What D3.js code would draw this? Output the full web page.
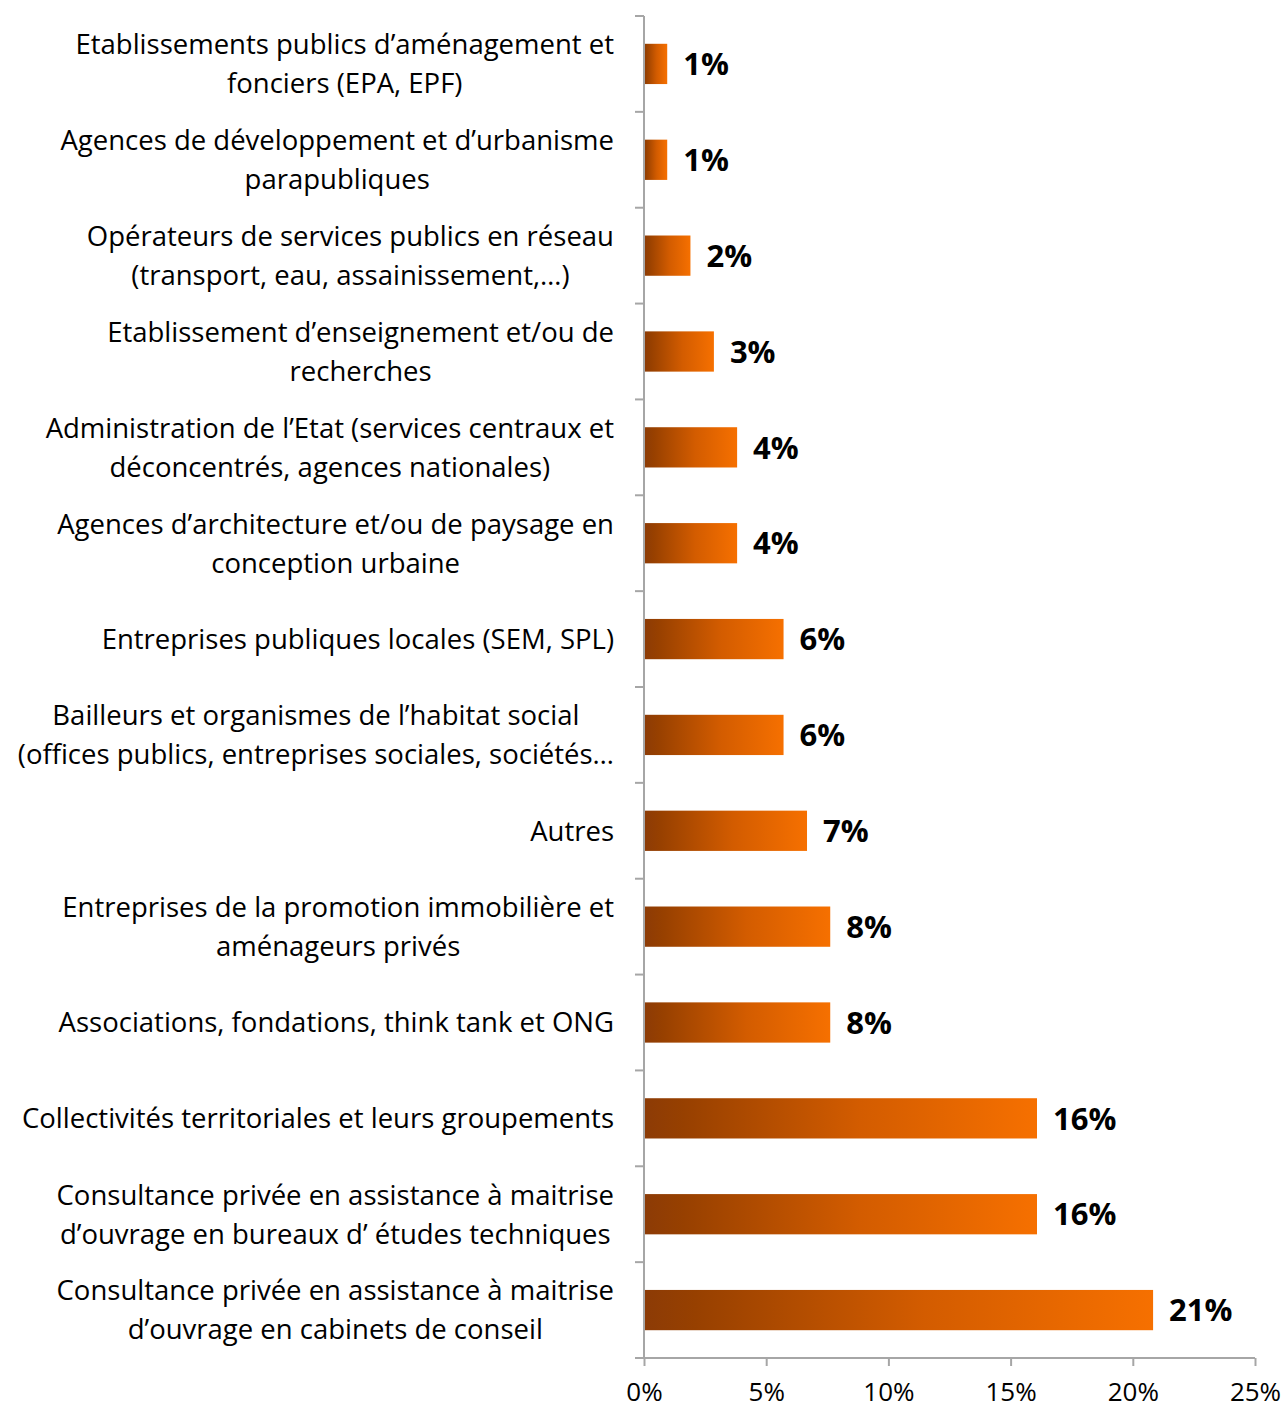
<!DOCTYPE html>
<html>
<head>
<meta charset="utf-8">
<title>Employeurs</title>
<style>
body { margin: 0; background: #fff; }
svg text { font-family: "Open Sans", Lato, sans-serif; fill: #000; }
</style>
</head>
<body>
<script src="https://cdn.jsdelivr.net/npm/d3@7"></script>
<script>
 // categories, each one split in the lines shown on the chart
 var categories = [
   ["Etablissements publics d\u2019aménagement et", "fonciers (EPA, EPF)"],
   ["Agences de développement et d\u2019urbanisme", "parapubliques"],
   ["Opérateurs de services publics en réseau", "(transport, eau, assainissement,\u2026)"],
   ["Etablissement d\u2019enseignement et/ou de", "recherches"],
   ["Administration de l\u2019Etat (services centraux et", "déconcentrés, agences nationales)"],
   ["Agences d\u2019architecture et/ou de paysage en", "conception urbaine"],
   ["Entreprises publiques locales (SEM, SPL)"],
   ["Bailleurs et organismes de l\u2019habitat social", "(offices publics, entreprises sociales, sociétés\u2026"],
   ["Autres"],
   ["Entreprises de la promotion immobilière et", "aménageurs privés"],
   ["Associations, fondations, think tank et ONG"],
   ["Collectivités territoriales et leurs groupements"],
   ["Consultance privée en assistance à maitrise", "d\u2019ouvrage en bureaux d\u2019 études techniques"],
   ["Consultance privée en assistance à maitrise", "d\u2019ouvrage en cabinets de conseil"]
 ];
 var values = [0.95, 0.95, 1.9, 2.86, 3.81, 3.81, 5.71, 5.71, 6.67, 7.62, 7.62, 16.08, 16.08, 20.83];
 var xTicks = [0, 5, 10, 15, 20, 25];

 var W = 1286, H = 1412;
 var plotLeft = 644, plotRight = 1255, plotTop = 16, plotBottom = 1358;

 var svg = d3.select("body").append("svg")
   .attr("width", W).attr("height", H);

 var defs = svg.append("defs");
 var grad = defs.append("linearGradient").attr("id", "barGrad")
   .attr("x1", "0").attr("x2", "1").attr("y1", "0").attr("y2", "0");
 grad.append("stop").attr("offset", "0").attr("stop-color", "#8c3b06");
 grad.append("stop").attr("offset", "0.1").attr("stop-color", "#974000");
 grad.append("stop").attr("offset", "0.55").attr("stop-color", "#d35c00");
 grad.append("stop").attr("offset", "1").attr("stop-color", "#f67000");

 var x = d3.scaleLinear().domain([0, 25]).range([plotLeft, plotRight]);
 var y = d3.scaleBand().domain(d3.range(categories.length))
   .range([plotTop, plotBottom]).paddingInner(0.58).paddingOuter(0.29);
 var band = d3.scaleBand().domain(d3.range(categories.length)).range([plotTop, plotBottom]);

 // bars
 svg.append("g").selectAll("rect").data(values).enter().append("rect")
   .attr("x", x(0))
   .attr("y", function(d, i) { return y(i); })
   .attr("width", function(d) { return x(d) - x(0); })
   .attr("height", y.bandwidth())
   .attr("fill", "url(#barGrad)");

 // value labels
 svg.append("g").selectAll("text").data(values).enter().append("text")
   .attr("x", function(d) { return x(d) + 16; })
   .attr("y", function(d, i) { return y(i) + y.bandwidth() / 2; })
   .attr("dy", "0.36em")
   .style("font-size", "31px")
   .style("font-weight", "bold")
   .text(function(d) { return Math.round(d) + "%"; });

 // y axis line and ticks at band boundaries
 var axisColor = "#a6a6a6";
 svg.append("line")
   .attr("x1", plotLeft).attr("x2", plotLeft).attr("y1", plotTop).attr("y2", plotBottom)
   .attr("stroke", axisColor).attr("stroke-width", 2);
 var bounds = d3.range(categories.length + 1).map(function(i) {
   return i < categories.length ? band(i) : plotBottom;
 });
 svg.append("g").selectAll("line").data(bounds).enter().append("line")
   .attr("x1", plotLeft - 9).attr("x2", plotLeft)
   .attr("y1", function(d) { return d; }).attr("y2", function(d) { return d; })
   .attr("stroke", axisColor).attr("stroke-width", 2);

 // x axis
 var xAxis = d3.axisBottom(x).tickValues(xTicks)
   .tickFormat(function(d) { return d + "%"; })
   .tickSizeInner(8).tickSizeOuter(0).tickPadding(17);
 var gx = svg.append("g").attr("transform", "translate(0," + plotBottom + ")").call(xAxis);
 gx.select(".domain").attr("d", "M" + (plotLeft - 9) + ",0H" + plotRight)
   .attr("stroke", axisColor).attr("stroke-width", 2);
 gx.selectAll(".tick line").attr("stroke", axisColor).attr("stroke-width", 2);
 gx.selectAll(".tick text")
   .style("font-family", "'Open Sans', Lato, sans-serif")
   .style("font-size", "26px").attr("fill", "#000");

 // category labels: block right-aligned, lines centred inside the block
 var labelRight = 614, lineH = 39;
 var lg = svg.append("g");
 categories.forEach(function(lines, i) {
   var cy = band(i) + band.bandwidth() / 2;
   var texts = lines.map(function(s, j) {
     return lg.append("text")
       .attr("y", cy + (j - (lines.length - 1) / 2) * lineH)
       .attr("dy", "0.36em")
       .style("font-size", "27.5px")
       .text(s);
   });
   var maxW = d3.max(texts, function(t) { return t.node().getComputedTextLength(); });
   texts.forEach(function(t) {
     t.attr("x", labelRight - maxW / 2).attr("text-anchor", "middle");
   });
 });
</script>
</body>
</html>
